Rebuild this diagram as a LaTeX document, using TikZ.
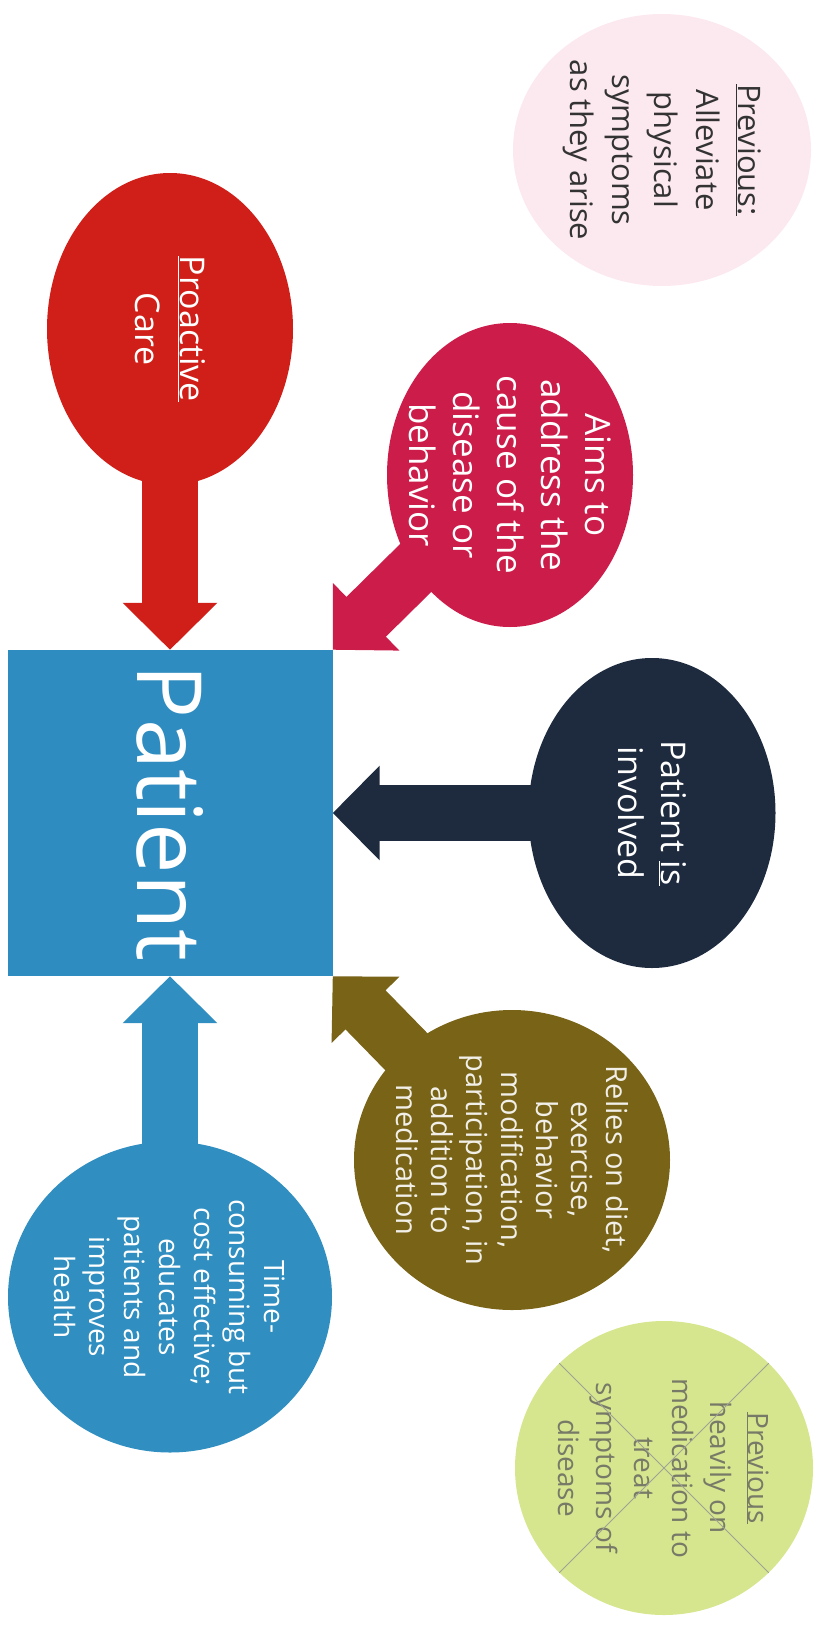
\documentclass[tikz,border=0pt]{standalone}
\usepackage{fontspec}
\setmainfont{Open Sans}
\usetikzlibrary{shapes.geometric,arrows.meta,backgrounds}

\definecolor{patientblue}{RGB}{47,140,192}
\definecolor{carered}{RGB}{208,30,24}
\definecolor{aimsred}{RGB}{204,28,74}
\definecolor{navy}{RGB}{30,42,62}
\definecolor{olive}{RGB}{120,99,22}
\definecolor{timeblue}{RGB}{48,143,192}
\definecolor{prevpink}{RGB}{252,233,239}
\definecolor{prevgreen}{RGB}{214,230,143}
\definecolor{prevgray}{RGB}{120,122,104}

\begin{document}
\begin{tikzpicture}[x=1pt,y=-1pt]
        % Define the styles for the nodes
        \tikzset{
            blob/.style={ellipse,inner sep=0pt},
            txt/.style={rotate=-90,align=center,inner sep=0pt},
            fat/.style={line width=56pt,-{Triangle[length=47pt,width=92pt]}}
        }
        \useasboundingbox (0,0) rectangle (825,1627);

        % Nodes
        \node[fill=patientblue,inner sep=0pt,minimum width=325pt,minimum height=326pt] (patient) at (170,813) {};
        \node[blob,fill=prevpink,minimum width=298pt,minimum height=272pt] (prevA) at (662,150) {};
        \node[blob,fill=carered,minimum width=246pt,minimum height=312pt] (care) at (170,329) {};
        \node[blob,fill=aimsred,minimum width=246pt,minimum height=304pt] (aims) at (510,475) {};
        \node[blob,fill=navy,minimum width=247pt,minimum height=310pt] (involved) at (652,813) {};
        \node[blob,fill=olive,minimum width=316pt,minimum height=300pt] (relies) at (512,1160) {};
        \node[blob,fill=timeblue,minimum width=324pt,minimum height=311pt] (time) at (170,1297) {};
        \node[blob,fill=prevgreen,minimum width=298pt,minimum height=294pt] (prevB) at (664,1468) {};

        % Texts
        \node[txt,text=white,font=\fontsize{90}{90}\selectfont] (patientT) at (patient.center) {Patient};
        \node[txt,text=black!80,font=\fontsize{31}{42}\selectfont] (prevAT) at (prevA.center) {\underline{Previous:}\\Alleviate\\physical\\symptoms\\as they arise};
        \node[txt,text=white,font=\fontsize{34}{45}\selectfont] (careT) at (care.center) {\underline{Proactive}\\Care};
        \node[txt,text=white,font=\fontsize{35}{44}\selectfont] (aimsT) at (aims.center) {Aims to\\address the\\cause of the\\disease or\\behavior};
        \node[txt,text=white,font=\fontsize{34}{43}\selectfont] (involvedT) at (involved.center) {Patient \underline{is}\\involved};
        \node[txt,text=white!90!olive,font=\fontsize{29}{35}\selectfont] (reliesT) at (relies.center) {Relies on diet,\\exercise,\\behavior\\modification,\\participation, in\\addition to\\medication};
        \node[txt,text=white,font=\fontsize{28}{35}\selectfont] (timeT) at (time.center) {Time-\\consuming but\\cost effective;\\educates\\patients and\\improves\\health};
        \node[txt,text=prevgray,font=\fontsize{28}{38}\selectfont] (prevBT) at (prevB.center) {\underline{Previous}\\heavily on\\medication to\\treat\\symptoms of\\disease};

        % Edges
        \begin{pgfonlayer}{background}
        \draw[fat,carered] (care.center) -- (patient.north);
        \draw[fat,aimsred] (aims.center) -- (patient.north east);
        \draw[fat,navy] (involved.center) -- (patient.east);
        \draw[fat,olive] (relies.center) -- (patient.south east);
        \draw[fat,timeblue] (time.center) -- (patient.south);
        \end{pgfonlayer}
        \draw[prevgray!70,line width=0.8pt] (prevB.135) -- (prevB.-45);
        \draw[prevgray!70,line width=0.8pt] (prevB.45) -- (prevB.-135);
    \end{tikzpicture}
\end{document}
